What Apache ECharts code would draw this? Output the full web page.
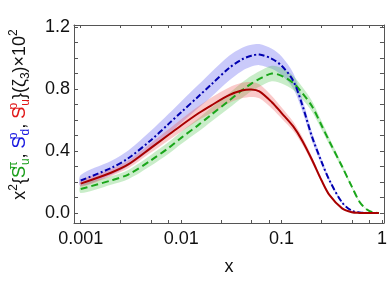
<!DOCTYPE html>
<html><head><meta charset="utf-8">
<script src="https://cdn.jsdelivr.net/npm/echarts@6/dist/echarts.min.js"></script>
<style>html,body{margin:0;padding:0;background:#fff}#c{width:390px;height:281px}</style>
</head><body><div id="c"></div>
<script>
// ---- data ----
const xValues   = [0.001,0.002,0.003,0.005,0.0075,0.01,0.015,0.02,0.03,0.04,0.05,0.06,0.08,0.1,0.13,0.16,0.2,0.25,0.3,0.4,0.5,0.6,0.7,0.8,0.93];
const blueSd    = [0.21,0.29,0.355,0.47,0.575,0.65,0.755,0.83,0.935,0.99,1.015,1.022,0.995,0.95,0.855,0.70,0.495,0.33,0.21,0.068,0.015,0.004,0.001,0,0];
const blueErr   = [0.035,0.045,0.05,0.06,0.065,0.07,0.075,0.08,0.08,0.075,0.07,0.068,0.065,0.06,0.05,0.04,0.03,0.02,0.012,0.005,0.002,0,0,0,0];
const redSu     = [0.19,0.26,0.315,0.42,0.505,0.565,0.645,0.695,0.76,0.79,0.797,0.785,0.715,0.645,0.56,0.468,0.345,0.21,0.115,0.03,0.005,0.001,0,0,0];
const redErr    = [0.02,0.022,0.025,0.03,0.035,0.04,0.045,0.05,0.05,0.05,0.048,0.045,0.04,0.035,0.03,0.025,0.02,0.012,0.007,0.003,0.001,0,0,0,0];
const greenSpi  = [0.155,0.21,0.25,0.34,0.42,0.485,0.57,0.635,0.725,0.79,0.835,0.865,0.9,0.885,0.84,0.775,0.69,0.565,0.46,0.30,0.17,0.07,0.025,0.006,0];
const greenErr  = [0.025,0.027,0.03,0.035,0.038,0.04,0.043,0.045,0.048,0.05,0.05,0.05,0.05,0.05,0.045,0.04,0.035,0.028,0.022,0.015,0.008,0.004,0.002,0,0];
const xTickLabels = [0.001,0.01,0.1,1];
const xTicks = [0.001,0.0025,0.005,0.0075,0.01,0.025,0.05,0.075,0.1,0.25,0.5,0.75,1];
const yTickLabels = [0,0.4,0.8,1.2];
const yTicks = [0,0.1,0.2,0.3,0.4,0.5,0.6,0.7,0.8,0.9,1.0,1.1,1.2];

// ---- chart ----
const FONT = 'Liberation Sans';
const AXC = '#555';
const chart = echarts.init(document.getElementById('c'), null, {renderer:'canvas'});

function bandSeries(c, e, color){
  return {type:'custom', coordinateSystem:'cartesian2d', xAxisIndex:0, yAxisIndex:0, silent:true, z:1,
    data:[[xValues[0], c[0]]],
    renderItem:(params, api)=>{
      const up = xValues.map((x,i)=>api.coord([x, c[i]+e[i]]));
      const lo = xValues.map((x,i)=>api.coord([x, c[i]-e[i]])).reverse();
      return {type:'polygon', shape:{points: up.concat(lo), smooth:0.3}, style:{fill:color}};
    }};
}
function lineSeries(ys, color, type){
  return {type:'custom', coordinateSystem:'cartesian2d', xAxisIndex:0, yAxisIndex:0, silent:true, z:3,
    data:[[xValues[0], ys[0]]],
    renderItem:(params, api)=>{
      const pts = xValues.map((x,i)=>api.coord([x, ys[i]]));
      return {type:'polyline', shape:{points: pts, smooth:0.3},
        style:{stroke:color, lineWidth:2, fill:null, lineDash: type==='solid'?null:type}};
    }};
}

const xCommon = {type:'log', min:0.000857, max:1.045, logBase:10,
  axisLine:{show:true, onZero:false, lineStyle:{color:AXC, width:1}},
  axisTick:{show:true, inside:true, length:3, customValues:xTicks, lineStyle:{color:AXC}},
  splitLine:{show:false}, minorTick:{show:false}};
const yCommon = {type:'value', min:-0.0642, max:1.2128,
  axisLine:{show:true, onZero:false, lineStyle:{color:AXC, width:1}},
  axisTick:{show:true, inside:true, length:4, customValues:yTicks, lineStyle:{color:AXC}},
  splitLine:{show:false}};

const sub = (col)=>({fontSize:12, color:col, fontFamily:FONT, verticalAlign:'bottom', lineHeight:12});
const sup = (col)=>({fontSize:12, color:col, fontFamily:FONT, verticalAlign:'top', lineHeight:12, width:1});
const big = (col)=>({fontSize:18, color:col, fontFamily:FONT, lineHeight:24});

chart.setOption({
  animation:false,
  grid:{left:63, right:5, top:25, bottom:57, containLabel:false},
  xAxis:[
    Object.assign({}, xCommon, {position:'bottom',
      axisLabel:{show:true, customValues:xTickLabels, margin:7, fontSize:18, fontFamily:FONT, color:'#111',
        formatter:(v)=>String(Number(v.toPrecision(6)))},
      name:'x', nameLocation:'middle', nameGap:35,
      nameTextStyle:{fontSize:18, fontFamily:FONT, color:'#111'}}),
    Object.assign({}, xCommon, {position:'top', axisLabel:{show:false}})
  ],
  yAxis:[
    Object.assign({}, yCommon, {position:'left',
      axisLabel:{show:true, customValues:yTickLabels, margin:4, fontSize:18, fontFamily:FONT, color:'#111',
        formatter:(v)=>v.toFixed(1)},
      name:'x{sup|2}{{g|S}{gp|π}{gb|u}, {b|S}{bp|p}{bb|d}, {r|S}{rp|p}{rb|u}}(ζ{sb|3})×10{sup|2}',
      nameLocation:'middle', nameRotate:90, nameGap:42,
      nameTextStyle:{fontSize:18, fontFamily:FONT, color:'#111', lineHeight:24, padding:[0,0,0,19],
        rich:{
          sup:{fontSize:12, color:'#111', fontFamily:FONT, verticalAlign:'top', lineHeight:12},
          sb:sub('#111'),
          g:big('#1a9e1a'), gp:sup('#1a9e1a'), gb:sub('#1a9e1a'),
          b:big('#1515e0'), bp:sup('#1515e0'), bb:sub('#1515e0'),
          r:big('#e01515'), rp:sup('#e01515'), rb:sub('#e01515')
        }}}),
    Object.assign({}, yCommon, {position:'right', axisLabel:{show:false}})
  ],
  series:[
    bandSeries(blueSd, blueErr, 'rgba(80,80,240,0.3)'),
    bandSeries(greenSpi, greenErr, 'rgba(60,190,60,0.28)'),
    bandSeries(redSu, redErr, 'rgba(240,80,80,0.3)'),
    lineSeries(greenSpi, '#1aa61a', [7,4]),
    lineSeries(blueSd, '#0000b0', [6,2.5,2,2.5]),
    lineSeries(redSu, '#a80000', 'solid')
  ]
});
</script></body></html>
